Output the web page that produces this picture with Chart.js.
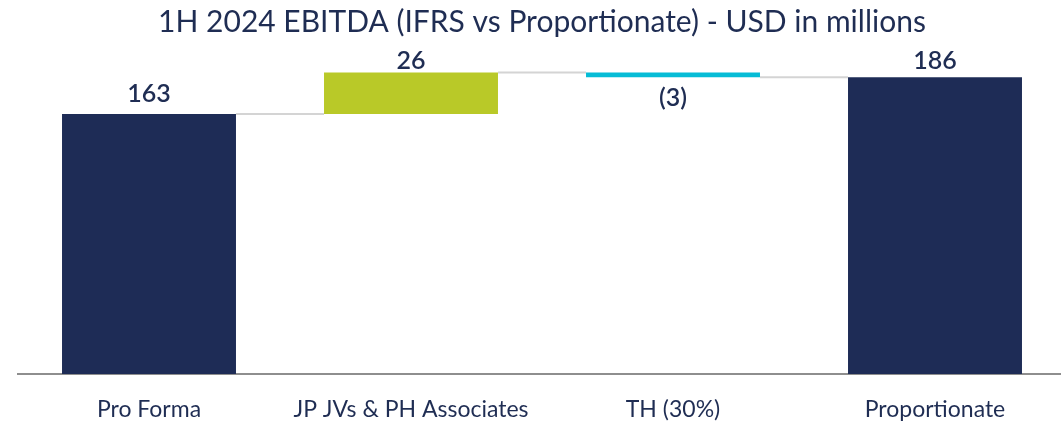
<!DOCTYPE html>
<html><head><meta charset="utf-8">
<script src="https://cdn.jsdelivr.net/npm/chart.js@4.4.1/dist/chart.umd.min.js"></script>
<style>html,body{margin:0;padding:0;background:#fff;overflow:hidden;}canvas{display:block;}</style>
</head><body>
<canvas id="c" width="1066" height="423"></canvas>
<script>
const categories = ["Pro Forma", "JP JVs & PH Associates", "TH (30%)", "Proportionate"];
const changes = [163, 26, -3, 186];
const isTotal = [true, false, false, true];
const valueLabels = ["163", "26", "(3)", "186"];
const barColors = ["#1e2c56", "#b9c928", "#06bcd6", "#1e2c56"];
const titleText = "1H 2024 EBITDA (IFRS vs Proportionate) - USD in millions";

// build floating ranges
const ranges = [];
let running = 0;
for (let i = 0; i < changes.length; i++) {
  if (isTotal[i]) { ranges.push([0, changes[i]]); running = changes[i]; }
  else { const s = running; running += changes[i]; ranges.push([s, running]); }
}

const textColor = "#1f2d53";

const waterfallPlugin = {
  id: "waterfall",
  beforeDatasetsDraw(chart) {
    const ctx = chart.ctx, meta = chart.getDatasetMeta(0), y = chart.scales.y;
    ctx.save();
    ctx.strokeStyle = "#d4d4d4"; ctx.lineWidth = 2;
    for (let i = 0; i < ranges.length - 1; i++) {
      const a = meta.data[i], b = meta.data[i + 1];
      const lvl = ranges[i][1];
      const yy = y.getPixelForValue(lvl);
      ctx.beginPath();
      ctx.moveTo(a.x + a.width / 2, yy);
      ctx.lineTo(b.x - b.width / 2, yy);
      ctx.stroke();
    }
    ctx.restore();
  },
  afterDatasetsDraw(chart) {
    const ctx = chart.ctx, meta = chart.getDatasetMeta(0), y = chart.scales.y;
    ctx.save();
    ctx.fillStyle = textColor;
    ctx.font = "600 25px Lato";
    ctx.textAlign = "center";
    ctx.textBaseline = "alphabetic";
    const minBaseline = chart.chartArea.top + 14;
    for (let i = 0; i < ranges.length; i++) {
      const el = meta.data[i];
      const top = Math.max(ranges[i][0], ranges[i][1]);
      const bot = Math.min(ranges[i][0], ranges[i][1]);
      if (changes[i] < 0) {
        ctx.fillText(valueLabels[i], el.x, y.getPixelForValue(bot) + 29);
      } else {
        const base = Math.max(minBaseline, y.getPixelForValue(top) - 12);
        ctx.fillText(valueLabels[i], el.x, base);
      }
    }
    ctx.restore();
  }
};

new Chart(document.getElementById("c"), {
  type: "bar",
  data: {
    labels: categories,
    datasets: [{
      data: ranges,
      backgroundColor: barColors,
      borderWidth: 0,
      barPercentage: 0.664,
      categoryPercentage: 1.0
    }]
  },
  options: {
    responsive: false,
    animation: false,
    layout: { padding: { left: 18, right: 0, top: 0, bottom: 0 } },
    plugins: {
      legend: { display: false },
      tooltip: { enabled: false },
      title: {
        display: true,
        text: titleText,
        color: textColor,
        font: { family: "Lato", size: 30, weight: "normal", lineHeight: 1.2 },
        padding: { top: 4, bottom: 15 }
      }
    },
    scales: {
      x: {
        grid: { display: true, color: "rgba(0,0,0,0)", drawTicks: false },
        border: { display: true, color: "#8e8e8e", width: 2 },
        ticks: { color: textColor, font: { family: "Lato", size: 23 }, padding: 22, maxRotation: 0 },
        afterFit(scale) { scale.height = 49; }
      },
      y: {
        display: false,
        min: 0,
        max: 200
      }
    }
  },
  plugins: [waterfallPlugin]
});
</script>
</body></html>
